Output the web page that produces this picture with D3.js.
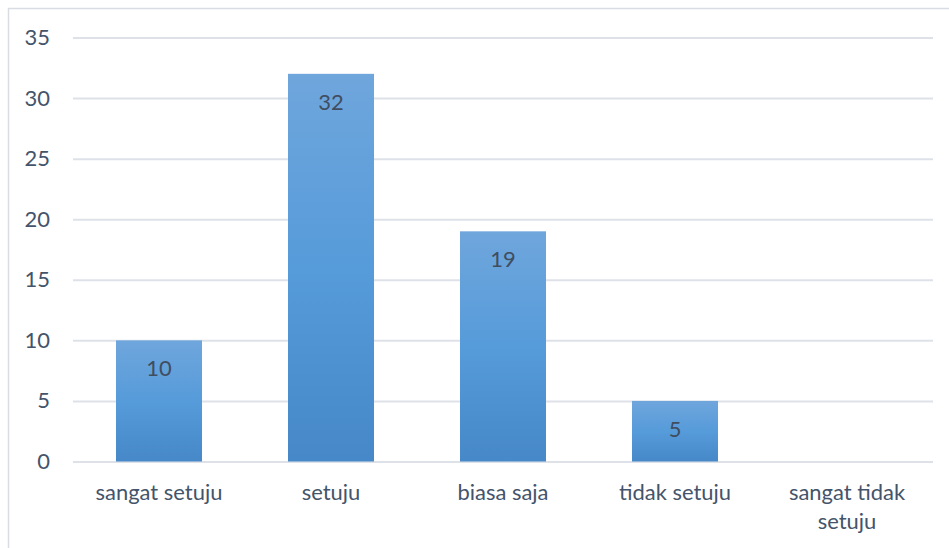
<!DOCTYPE html>
<html>
<head>
<meta charset="utf-8">
<script src="https://cdn.jsdelivr.net/npm/d3@7"></script>
<style>
  html, body { margin: 0; padding: 0; background: #fff; }
  svg { display: block; }
  text { font-family: "Lato", "Open Sans", sans-serif; }
</style>
</head>
<body>
<svg id="chart" width="949" height="548"></svg>
<script>
const categories = ["sangat setuju", "setuju", "biasa saja", "tidak setuju", "sangat tidak setuju"];
const values = [10, 32, 19, 5, 0];
const yTicks = [0, 5, 10, 15, 20, 25, 30, 35];

const W = 949, H = 548;
const margin = { left: 73, right: 16, top: 37.5, bottom: 86.5 };
const svg = d3.select("#chart");

// chart frame
svg.append("path")
  .attr("d", `M8.5,${H + 2} V8.5 H${W + 2}`)
  .attr("fill", "none").attr("stroke", "#D9DDE3").attr("stroke-width", 1.5);

const x = d3.scaleBand().domain(categories)
  .range([margin.left, W - margin.right]).paddingInner(0.5).paddingOuter(0.25);
const y = d3.scaleLinear().domain([0, 35]).range([H - margin.bottom, margin.top]);

const defs = svg.append("defs");
const grad = defs.append("linearGradient").attr("id", "barGrad")
  .attr("x1", 0).attr("y1", 0).attr("x2", 0).attr("y2", 1);
grad.append("stop").attr("offset", "0%").attr("stop-color", "#6FA6DC");
grad.append("stop").attr("offset", "50%").attr("stop-color", "#569BDA");
grad.append("stop").attr("offset", "100%").attr("stop-color", "#4688C8");

// fit font size so category label width resembles reference
const probe = svg.append("text").attr("font-size", 100).text("sangat setuju");
const w100 = probe.node().getComputedTextLength();
probe.remove();
const fs = Math.min(23, 100 * 127 / w100);

// gridlines
const yAxis = d3.axisLeft(y).tickValues(yTicks).tickSize(-(W - margin.right - margin.left)).tickPadding(23);
const gy = svg.append("g").attr("transform", `translate(${margin.left},0)`).call(yAxis);
gy.select(".domain").remove();
gy.selectAll(".tick line").attr("stroke", "#DEE2E8").attr("stroke-width", 2);
gy.selectAll(".tick text").attr("fill", "#44546A").attr("font-size", fs)
  .attr("font-family", "Lato, 'Open Sans', sans-serif");

// bars
svg.append("g").selectAll("rect").data(values).join("rect")
  .attr("x", (d, i) => x(categories[i]))
  .attr("width", x.bandwidth())
  .attr("y", d => y(d))
  .attr("height", d => y(0) - y(d))
  .attr("fill", "url(#barGrad)");

// value labels
svg.append("g").selectAll("text").data(values.map((v, i) => ({ v, c: categories[i] })).filter(d => d.v > 0))
  .join("text")
  .attr("x", d => x(d.c) + x.bandwidth() / 2)
  .attr("y", d => y(d.v) + 36)
  .attr("text-anchor", "middle")
  .attr("font-size", fs)
  .attr("fill", "#404D5F")
  .text(d => String(d.v));

// category axis
const xAxis = d3.axisBottom(x).tickSize(0).tickPadding(0);
const gx = svg.append("g").attr("transform", `translate(0,${y(0)})`).call(xAxis);
gx.select(".domain").remove();
gx.selectAll(".tick text").remove();
gx.selectAll(".tick").each(function(d) {
  const g = d3.select(this);
  const lines = d === "sangat tidak setuju" ? ["sangat tidak", "setuju"] : [d];
  lines.forEach((ln, k) => {
    g.append("text")
      .attr("y", 38 + k * 29)
      .attr("text-anchor", "middle")
      .attr("font-size", fs)
      .attr("fill", "#44546A")
      .text(ln);
  });
});
</script>
</body>
</html>
